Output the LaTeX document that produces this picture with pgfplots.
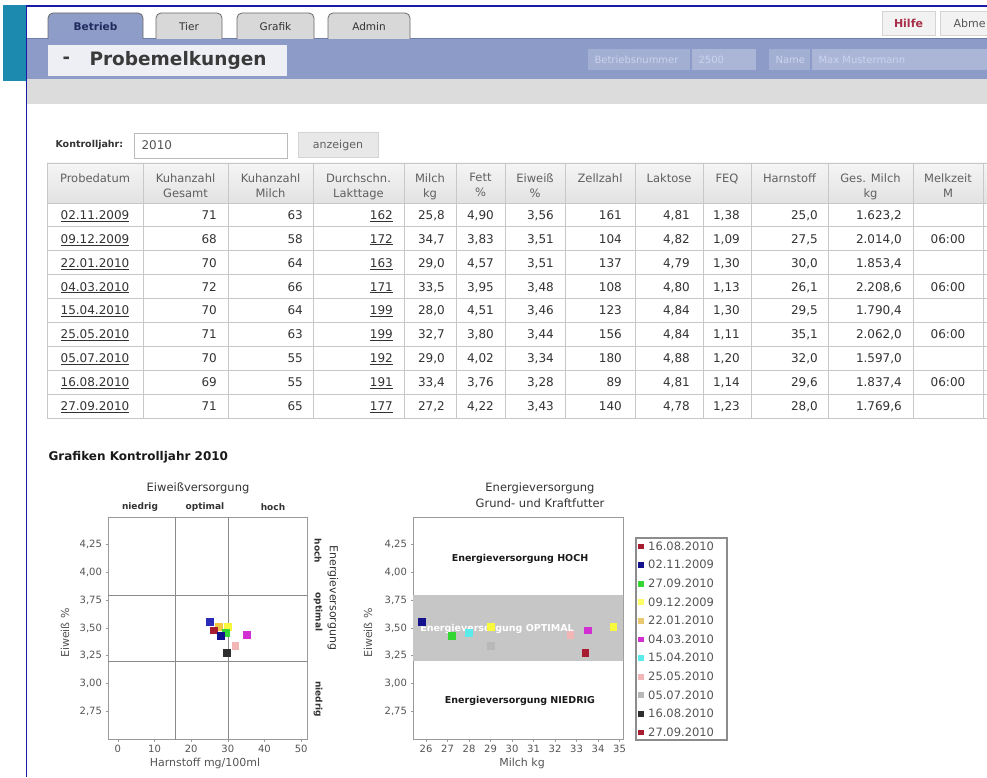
\documentclass[border=0pt]{standalone}
\usepackage{fontspec}
\setmainfont{DejaVu Sans}
\usepackage{pgfplots}
\pgfplotsset{compat=1.18}
\newcommand\fs[1]{\fontsize{#1}{14}\selectfont}
\definecolor{cteal}{HTML}{1C89AE}
\definecolor{cnavyline}{HTML}{1A1AA8}
\definecolor{cband}{HTML}{8C9BC7}
\definecolor{cbandline}{HTML}{6E7DAA}
\definecolor{ctabact}{HTML}{8D9DC8}
\definecolor{ctabin}{HTML}{D8D8D8}
\definecolor{ctabborder}{HTML}{6B6B6B}
\definecolor{ctabtext}{HTML}{333333}
\definecolor{cactive}{HTML}{1F2A5C}
\definecolor{cpbox}{HTML}{EDEFF5}
\definecolor{cpboxtext}{HTML}{3A3A3A}
\definecolor{cfield}{HTML}{A3AFD2}
\definecolor{cfield2}{HTML}{ABB6D7}
\definecolor{cfieldtext}{HTML}{CBD3EC}
\definecolor{cgrayband}{HTML}{DCDCDC}
\definecolor{cbtn}{HTML}{F2F2F2}
\definecolor{cbtn2}{HTML}{E8E8E8}
\definecolor{cbtnb}{HTML}{D4D4D4}
\definecolor{chilfe}{HTML}{A8304A}
\definecolor{cabme}{HTML}{555555}
\definecolor{ctext}{HTML}{333333}
\definecolor{cdark}{HTML}{1A1A1A}
\definecolor{chead}{HTML}{606060}
\definecolor{cgrid}{HTML}{C8C8C8}
\definecolor{cheadtop}{HTML}{F5F5F5}
\definecolor{cheadbot}{HTML}{E2E2E2}
\definecolor{cinput}{HTML}{BBBBBB}
\definecolor{cinputtext}{HTML}{555555}
\definecolor{cframe}{HTML}{9A9A9A}
\definecolor{cline}{HTML}{8A8A8A}
\definecolor{ctick}{HTML}{555555}
\definecolor{cbandchart}{HTML}{C6C6C6}
\definecolor{clegend}{HTML}{8C8C8C}
\definecolor{pblue}{HTML}{2B2BB8}
\definecolor{pnavy}{HTML}{12128C}
\definecolor{pdred}{HTML}{A81C32}
\definecolor{pyellow}{HTML}{F8F83C}
\definecolor{porange}{HTML}{F2C840}
\definecolor{pgreen}{HTML}{33D633}
\definecolor{pmag}{HTML}{D22FD2}
\definecolor{pcyan}{HTML}{5CEBEB}
\definecolor{ppink}{HTML}{F2B6B6}
\definecolor{pgray}{HTML}{B8B8B8}
\definecolor{pblack}{HTML}{2E2E2E}
\definecolor{lyellow}{HTML}{FFFF66}
\definecolor{lorange}{HTML}{E8C870}
\pgfplotsset{chartstyle/.style={
  scale only axis, height=222pt, ymin=2.5, ymax=4.5,
  ytick={2.75,3,3.25,3.5,3.75,4,4.25},
  yticklabels={{2,75},{3,00},{3,25},{3,50},{3,75},{4,00},{4,25}},
  axis line style={cframe, line width=0.9pt},
  tick style={cframe, line width=0.6pt}, tick align=outside, major tick length=2.5pt,
  xtick pos=left, ytick pos=left,
  tick label style={font=\fs{10}, text=ctick},
  /pgf/number format/assume math mode=true,
}}
\begin{document}
\begin{tikzpicture}
\useasboundingbox (0,0) rectangle (987pt,777pt);
\fill[white] (0,0) rectangle (987pt,777pt);
\begin{scope}[x=1pt,y=-1pt,shift={(0pt,777pt)}]
% header
\fill[cteal] (3,5) rectangle (26,81);
\fill[cband] (27,38) rectangle (987,79);
\draw[cbandline, line width=1pt] (27,38.5) -- (987,38.5);
\fill[cgrayband] (27,79) rectangle (987,104);
\draw[fill=ctabact, draw=ctabborder, line width=0.8pt, rounded corners=5pt] (48,39) -- (48,13) -- (143,13) -- (143,39);
\node[font=\fs{10.5}\bfseries, text=cactive] at (95.5,27) {Betrieb};
\foreach \a/\b/\t in {156/222/Tier, 237/314/Grafik, 328/410/Admin}{
  \draw[fill=ctabin, draw=ctabborder, line width=0.8pt, rounded corners=5pt] (\a,39) -- (\a,13) -- (\b,13) -- (\b,39);
  \node[font=\fs{10.5}, text=ctabtext] at ({(\a+\b)/2},27) {\t};
}
\fill[cpbox] (48,45) rectangle (287,76);
\node[font=\fs{18}\bfseries, text=cpboxtext, anchor=west] at (59,60) {-};
\node[font=\fs{18.5}\bfseries, text=cpboxtext, anchor=west] at (86,60) {Probemelkungen};
\fill[cfield] (588,49) rectangle (690,70);
\node[font=\fs{10}, text=cfieldtext, anchor=west] at (591,60) {Betriebsnummer};
\fill[cfield2] (692,49) rectangle (756,70);
\node[font=\fs{10}, text=cfieldtext, anchor=west] at (695,60) {2500};
\fill[cfield] (769,49) rectangle (810,70);
\node[font=\fs{10}, text=cfieldtext, anchor=west] at (772,60) {Name};
\fill[cfield2] (812,49) rectangle (987,70);
\node[font=\fs{10}, text=cfieldtext, anchor=west] at (815,60) {Max Mustermann};
\draw[fill=cbtn, draw=cbtnb] (882,11) rectangle (935,35);
\node[font=\fs{11}\bfseries, text=chilfe] at (908.5,23) {Hilfe};
\begin{scope}
  \clip (939,0) rectangle (987,40);
  \draw[fill=cbtn, draw=cbtnb] (940,11) rectangle (1010,35);
\end{scope}
\node[font=\fs{11}, text=cabme, anchor=west] at (950,23) {Abme};
\draw[cnavyline, line width=1.6pt] (26,6) -- (987,6);
\draw[cnavyline, line width=1.6pt] (26.5,5.2) -- (26.5,777);
% Kontrolljahr
\node[font=\fs{9.5}\bfseries, text=ctext, anchor=west] at (52,145) {Kontrolljahr:};
\draw[draw=cinput, fill=white] (134,133) rectangle (287,158);
\node[font=\fs{12}, text=cinputtext, anchor=west] at (138,145.5) {2010};
\draw[draw=cbtnb, fill=cbtn2] (298,132) rectangle (378,157);
\node[font=\fs{11}, text=chead] at (338,145) {anzeigen};
% table
\shade[top color=cheadtop, bottom color=cheadbot] (47,163) rectangle (987,203);
\draw[cgrid, line width=0.8pt] (47,163) -- (987,163);
\foreach \k in {0,...,9} \draw[cgrid, line width=0.8pt] (47,{203+23.9*\k}) -- (987,{203+23.9*\k});
\foreach \x in {47,143,228,313,404,456,505,565,635,703,751,828,913,983} \draw[cgrid, line width=0.8pt] (\x,163) -- (\x,418.1);
\tikzset{hd/.style={font=\fontsize{11.5}{15}\selectfont, text=chead, align=center, anchor=north}}
\node[hd] at (95,170) {Probedatum};
\node[hd] at (185.5,170) {Kuhanzahl\\Gesamt};
\node[hd] at (270.5,170) {Kuhanzahl\\Milch};
\node[hd] at (358.5,170) {Durchschn.\\Lakttage};
\node[hd] at (430,170) {Milch\\kg};
\node[hd] at (480.5,170) {Fett\\\%};
\node[hd] at (535,170) {Eiweiß\\\%};
\node[hd] at (600,170) {Zellzahl};
\node[hd] at (669,170) {Laktose};
\node[hd] at (727,170) {FEQ};
\node[hd] at (789.5,170) {Harnstoff};
\node[hd] at (870.5,170) {Ges. Milch\\kg};
\node[hd] at (948,170) {Melkzeit\\M};
\tikzset{cell/.style={font=\fs{12}, text=ctext, inner sep=0pt, text height=8.7pt, text depth=0pt}}
\foreach \k/\d/\ka/\km/\lt/\mi/\fe/\ei/\zz/\la/\fq/\ha/\gm/\mz in {
 0/02.11.2009/71/63/162/{25,8}/{4,90}/{3,56}/161/{4,81}/{1,38}/{25,0}/{1.623,2}/{},
 1/09.12.2009/68/58/172/{34,7}/{3,83}/{3,51}/104/{4,82}/{1,09}/{27,5}/{2.014,0}/{06:00},
 2/22.01.2010/70/64/163/{29,0}/{4,57}/{3,51}/137/{4,79}/{1,30}/{30,0}/{1.853,4}/{},
 3/04.03.2010/72/66/171/{33,5}/{3,95}/{3,48}/108/{4,80}/{1,13}/{26,1}/{2.208,6}/{06:00},
 4/15.04.2010/70/64/199/{28,0}/{4,51}/{3,46}/123/{4,84}/{1,30}/{29,5}/{1.790,4}/{},
 5/25.05.2010/71/63/199/{32,7}/{3,80}/{3,44}/156/{4,84}/{1,11}/{35,1}/{2.062,0}/{06:00},
 6/05.07.2010/70/55/192/{29,0}/{4,02}/{3,34}/180/{4,88}/{1,20}/{32,0}/{1.597,0}/{},
 7/16.08.2010/69/55/191/{33,4}/{3,76}/{3,28}/89/{4,81}/{1,14}/{29,6}/{1.837,4}/{06:00},
 8/27.09.2010/71/65/177/{27,2}/{4,22}/{3,43}/140/{4,78}/{1,23}/{28,0}/{1.769,6}/{}}{
  \pgfmathsetmacro\yy{215+23.9*\k}
  \node[cell] at (95,\yy) {\underline{\d}};
  \node[cell, anchor=east] at (217,\yy) {\ka};
  \node[cell, anchor=east] at (303,\yy) {\km};
  \node[cell, anchor=east] at (393,\yy) {\underline{\lt}};
  \node[cell, anchor=east] at (445,\yy) {\mi};
  \node[cell, anchor=east] at (494,\yy) {\fe};
  \node[cell, anchor=east] at (554,\yy) {\ei};
  \node[cell, anchor=east] at (622,\yy) {\zz};
  \node[cell, anchor=east] at (690,\yy) {\la};
  \node[cell, anchor=east] at (740,\yy) {\fq};
  \node[cell, anchor=east] at (818,\yy) {\ha};
  \node[cell, anchor=east] at (902,\yy) {\gm};
  \node[cell] at (948,\yy) {\mz};
}
% section heading
\node[font=\fs{12}\bfseries, text=cdark, anchor=west] at (45,457) {Grafiken Kontrolljahr 2010};
% chart 1 texts
\node[font=\fs{11.5}, text=ctext] at (198,488) {Eiweißversorgung};
\node[font=\fs{9}\bfseries, text=ctext] at (140,507) {niedrig};
\node[font=\fs{9}\bfseries, text=ctext] at (205,507) {optimal};
\node[font=\fs{9}\bfseries, text=ctext] at (273,507) {hoch};
\node[font=\fs{9}\bfseries, text=ctext, rotate=-90] at (318,551) {hoch};
\node[font=\fs{9}\bfseries, text=ctext, rotate=-90] at (318,612) {optimal};
\node[font=\fs{9}\bfseries, text=ctext, rotate=-90] at (318,699) {niedrig};
\node[font=\fs{11}, text=ctext, rotate=-90] at (333,598) {Energieversorgung};
\node[font=\fs{11}, text=ctick, rotate=90] at (65,633) {Eiweiß \%};
\node[font=\fs{11}, text=ctick] at (205,763) {Harnstoff mg/100ml};
% chart 2 texts
\node[font=\fs{11.5}, text=ctext] at (540,488) {Energieversorgung};
\node[font=\fs{11.5}, text=ctext] at (540,503) {Grund- und Kraftfutter};
\node[font=\fs{11}, text=ctick, rotate=90] at (368,633) {Eiweiß \%};
\node[font=\fs{11}, text=ctick] at (522,763) {Milch kg};
\draw[clegend, line width=1.3pt] (636,538) rectangle (727,740);
\end{scope}
% chart 1
\begin{axis}[chartstyle, at={(108pt,38pt)}, anchor=south west, width=199pt,
  xmin=-2.7, xmax=51.6, xtick={0,10,20,30,40,50}]
\draw[cline] (axis cs:15.5,2.4) -- (axis cs:15.5,4.6);
\draw[cline] (axis cs:30,2.4) -- (axis cs:30,4.6);
\draw[cline] (axis cs:-10,3.2) -- (axis cs:60,3.2);
\draw[cline] (axis cs:-10,3.8) -- (axis cs:60,3.8);
\addplot[only marks, mark=square*, mark size=3.4pt, color=pyellow] coordinates {(30.0,3.51)};
\addplot[only marks, mark=square*, mark size=3.4pt, color=porange] coordinates {(27.5,3.51)};
\addplot[only marks, mark=square*, mark size=3.4pt, color=pgreen] coordinates {(29.5,3.46)};
\addplot[only marks, mark=square*, mark size=3.4pt, color=pdred] coordinates {(26.1,3.48)};
\addplot[only marks, mark=square*, mark size=3.4pt, color=pblue] coordinates {(25.0,3.56)};
\addplot[only marks, mark=square*, mark size=3.4pt, color=pnavy] coordinates {(28.0,3.43)};
\addplot[only marks, mark=square*, mark size=3.4pt, color=pmag] coordinates {(35.1,3.44)};
\addplot[only marks, mark=square*, mark size=3.4pt, color=ppink] coordinates {(32.0,3.34)};
\addplot[only marks, mark=square*, mark size=3.4pt, color=pblack] coordinates {(29.6,3.28)};
\end{axis}
% chart 2
\begin{axis}[chartstyle, at={(413pt,38pt)}, anchor=south west, width=210pt,
  xmin=25.395, xmax=35.16, xtick={26,27,...,35},
  legend style={at={(axis description cs:1.068,0.898)}, anchor=north west, draw=none, fill=none,
    font=\fs{11.5}, text=ctick, inner sep=1pt, row sep=8.1pt, column sep=3.5pt,
    nodes={inner sep=1pt, text height=8.5pt, text depth=0pt}},
  legend cell align=left,
  legend image code/.code={\fill[#1] (0pt,-2.4pt) rectangle (4.8pt,2.4pt);}]
\fill[cbandchart] (axis cs:20,3.2) rectangle (axis cs:40,3.8);
\node[font=\fs{9.5}\bfseries, text=cdark] at (axis cs:30.37,4.12) {Energieversorgung HOCH};
\node[font=\fs{9.5}\bfseries, text=cdark] at (axis cs:30.37,2.84) {Energieversorgung NIEDRIG};
\node[font=\fs{9.5}\bfseries, text=white] at (axis cs:29.3,3.49) {Energieversorgung OPTIMAL};
\addplot[only marks, mark=square*, mark size=3.4pt, color=pnavy, forget plot] coordinates {(25.8,3.56)};
\addplot[only marks, mark=square*, mark size=3.4pt, color=pgreen, forget plot] coordinates {(27.2,3.43)};
\addplot[only marks, mark=square*, mark size=3.4pt, color=pcyan, forget plot] coordinates {(28.0,3.46)};
\addplot[only marks, mark=square*, mark size=3.4pt, color=pgray, forget plot] coordinates {(29.0,3.34)};
\addplot[only marks, mark=square*, mark size=3.4pt, color=pyellow, forget plot] coordinates {(29.0,3.51)};
\addplot[only marks, mark=square*, mark size=3.4pt, color=ppink, forget plot] coordinates {(32.7,3.44)};
\addplot[only marks, mark=square*, mark size=3.4pt, color=pmag, forget plot] coordinates {(33.5,3.48)};
\addplot[only marks, mark=square*, mark size=3.4pt, color=pdred, forget plot] coordinates {(33.4,3.28)};
\addplot[only marks, mark=square*, mark size=3.4pt, color=pyellow, forget plot] coordinates {(34.7,3.51)};
\addlegendimage{color=pdred}\addlegendentry{16.08.2010}
\addlegendimage{color=pnavy}\addlegendentry{02.11.2009}
\addlegendimage{color=pgreen}\addlegendentry{27.09.2010}
\addlegendimage{color=lyellow}\addlegendentry{09.12.2009}
\addlegendimage{color=lorange}\addlegendentry{22.01.2010}
\addlegendimage{color=pmag}\addlegendentry{04.03.2010}
\addlegendimage{color=pcyan}\addlegendentry{15.04.2010}
\addlegendimage{color=ppink}\addlegendentry{25.05.2010}
\addlegendimage{color=pgray}\addlegendentry{05.07.2010}
\addlegendimage{color=pblack}\addlegendentry{16.08.2010}
\addlegendimage{color=pdred}\addlegendentry{27.09.2010}
\end{axis}
\end{tikzpicture}
\end{document}
